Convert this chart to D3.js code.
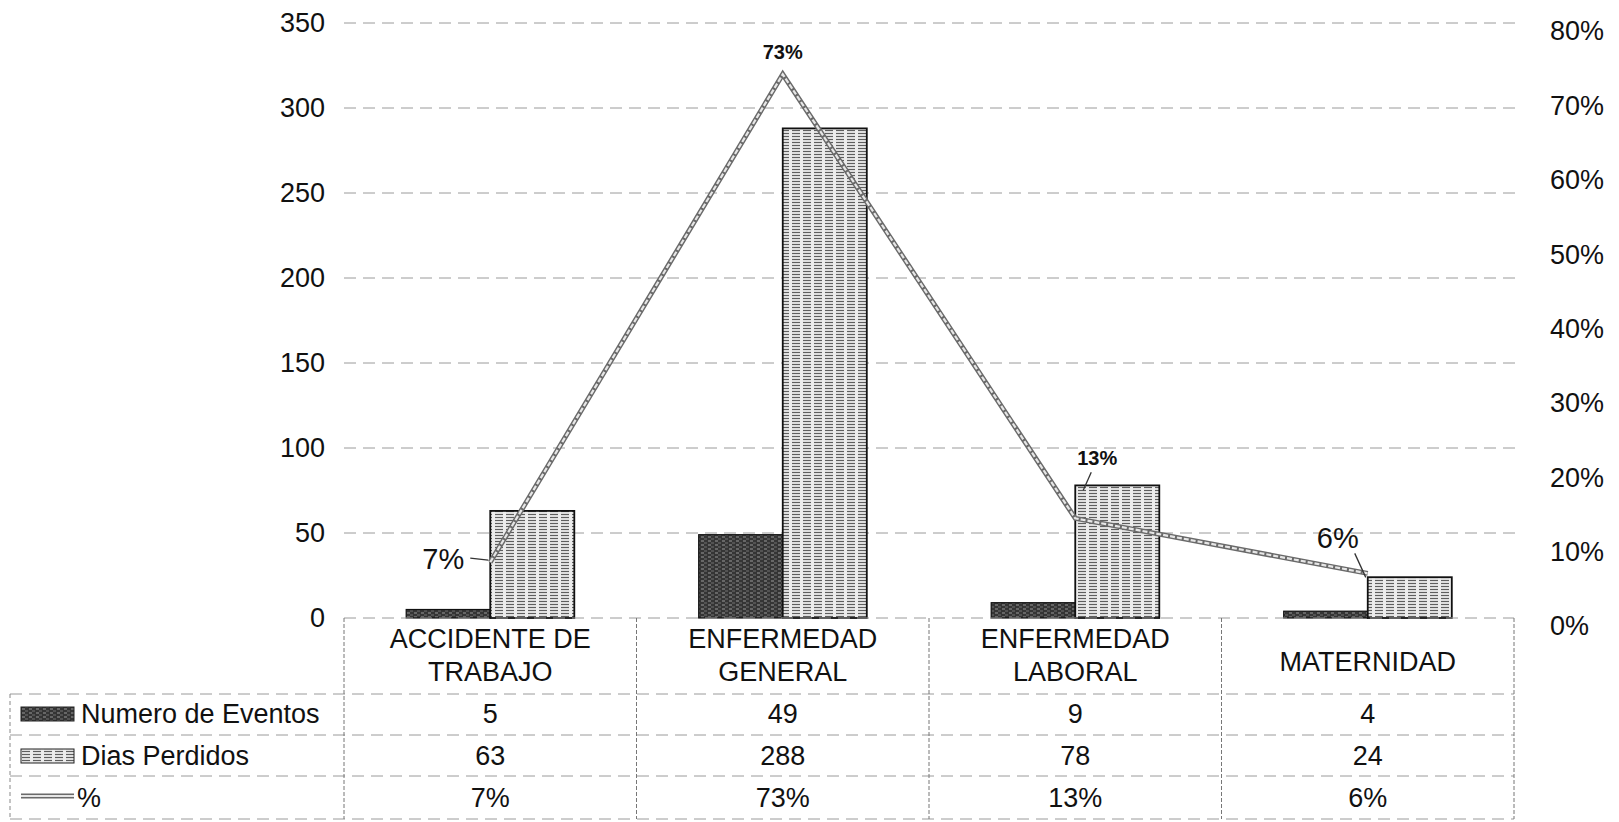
<!DOCTYPE html>
<html>
<head>
<meta charset="utf-8">
<script src="https://cdn.jsdelivr.net/npm/d3@7"></script>
<style>
  body { margin: 0; background: #fff; }
  svg { display: block; font-family: "Liberation Sans", Arial, sans-serif; }
</style>
</head>
<body>
<div id="chart"></div>
<script>
// datos
const categories = ['ACCIDENTE DE TRABAJO', 'ENFERMEDAD GENERAL', 'ENFERMEDAD LABORAL', 'MATERNIDAD'];
const categoryLines = [['ACCIDENTE DE', 'TRABAJO'], ['ENFERMEDAD', 'GENERAL'], ['ENFERMEDAD', 'LABORAL'], ['MATERNIDAD']];
const numeroEventos = [5, 49, 9, 4];
const diasPerdidos = [63, 288, 78, 24];
const porcentaje = [0.075, 0.731, 0.134, 0.06];
const pctLabels = ['7%', '73%', '13%', '6%'];
const leftTicks = [0, 50, 100, 150, 200, 250, 300, 350];
const rightTicks = [0, 0.1, 0.2, 0.3, 0.4, 0.5, 0.6, 0.7, 0.8];
const seriesNames = ['Numero de Eventos', 'Dias Perdidos', '%'];

const W = 1619, H = 822;
const plot = {left: 344, right: 1514, top: 23, bottom: 618};
const rowLines = [694, 735, 776, 819];
const tableLeft = 10;

const svg = d3.select('#chart').append('svg')
    .attr('width', W)
    .attr('height', H);

const defs = svg.append('defs');

// trama clara (Dias Perdidos)
let pl = defs.append('pattern').attr('id', 'light')
    .attr('patternUnits', 'userSpaceOnUse').attr('width', 11).attr('height', 3);
pl.append('rect').attr('width', 11).attr('height', 3).attr('fill', '#ececec');
pl.append('line').attr('x1', 0).attr('x2', 8).attr('y1', 1.5).attr('y2', 1.5)
    .attr('stroke', '#5e5e5e').attr('stroke-width', 1.2);

// trama oscura (Numero de Eventos)
let pd = defs.append('pattern').attr('id', 'dark')
    .attr('patternUnits', 'userSpaceOnUse').attr('width', 7).attr('height', 4);
pd.append('rect').attr('width', 7).attr('height', 4).attr('fill', '#353535');
pd.append('line').attr('x1', 1).attr('x2', 4).attr('y1', 1).attr('y2', 1)
    .attr('stroke', '#999').attr('stroke-width', 1);
pd.append('line').attr('x1', 4).attr('x2', 7).attr('y1', 3).attr('y2', 3)
    .attr('stroke', '#707070').attr('stroke-width', 1);

let x0 = d3.scaleBand()
    .domain(categories)
    .range([plot.left, plot.right])
    .padding(0);

let x1 = d3.scaleBand()
    .domain(['eventos', 'dias'])
    .range([0, x0.bandwidth()])
    .paddingInner(0)
    .paddingOuter(0.74);

let y = d3.scaleLinear()
    .domain([0, 350])
    .range([plot.bottom, plot.top]);

let y2 = d3.scaleLinear()
    .domain([0, 0.8])
    .range([plot.bottom, plot.top]);

const gridStyle = (sel) => sel
    .attr('stroke', '#9a9a9a')
    .attr('stroke-width', 1)
    .attr('stroke-dasharray', '12,7');

// lineas de division
svg.append('g').selectAll('line')
    .data(leftTicks.filter(d => d > 0))
    .enter().append('line')
    .attr('x1', plot.left).attr('x2', plot.right + 4)
    .attr('y1', d => y(d)).attr('y2', d => y(d))
    .call(gridStyle);

// eje izquierdo
svg.append('g').selectAll('text')
    .data(leftTicks)
    .enter().append('text')
    .attr('x', 325)
    .attr('y', d => y(d))
    .attr('dy', '0.35em')
    .attr('text-anchor', 'end')
    .attr('font-size', 27)
    .attr('fill', '#111')
    .text(d => d);

// eje derecho
svg.append('g').selectAll('text')
    .data(rightTicks)
    .enter().append('text')
    .attr('x', 1550)
    .attr('y', d => y2(d) + 8)
    .attr('dy', '0.35em')
    .attr('font-size', 27)
    .attr('fill', '#111')
    .text(d => Math.round(d * 100) + '%');

// barras
const bars = svg.append('g');
bars.selectAll('rect.eventos')
    .data(numeroEventos)
    .enter().append('rect')
    .attr('class', 'eventos')
    .attr('x', (d, i) => x0(categories[i]) + x1('eventos'))
    .attr('y', d => y(d))
    .attr('width', x1.bandwidth())
    .attr('height', d => y(0) - y(d))
    .attr('fill', 'url(#dark)')
    .attr('stroke', '#111')
    .attr('stroke-width', 1.2);

bars.selectAll('rect.dias')
    .data(diasPerdidos)
    .enter().append('rect')
    .attr('class', 'dias')
    .attr('x', (d, i) => x0(categories[i]) + x1('dias'))
    .attr('y', d => y(d))
    .attr('width', x1.bandwidth())
    .attr('height', d => y(0) - y(d))
    .attr('fill', 'url(#light)')
    .attr('stroke', '#111')
    .attr('stroke-width', 1.8);

// linea de porcentaje
const pts = porcentaje.map((d, i) => [x0(categories[i]) + x0.bandwidth() / 2, y2(d)]);
const line = d3.line();
svg.append('path')
    .attr('d', line(pts))
    .attr('fill', 'none')
    .attr('stroke', '#6a6a6a')
    .attr('stroke-width', 5)
    .attr('stroke-linejoin', 'miter');
svg.append('path')
    .attr('d', line(pts))
    .attr('fill', 'none')
    .attr('stroke', '#e6e6e6')
    .attr('stroke-width', 2.2)
    .attr('stroke-dasharray', '5,2');

// etiquetas de datos
const labelStyle = [
    {dx: -26, dy: -3, anchor: 'end', size: 29, weight: 'normal', lead: [[-20, -4], [-2, -2]]},
    {dx: 0, dy: -22, anchor: 'middle', size: 20, weight: 'bold', lead: null},
    {dx: 22, dy: -60, anchor: 'middle', size: 20, weight: 'bold', lead: [[16, -46], [8, -28]]},
    {dx: -30, dy: -36, anchor: 'middle', size: 29, weight: 'normal', lead: [[-13, -20], [-2, 4]]}
];
const lbl = svg.append('g');
pts.forEach((p, i) => {
    let s = labelStyle[i];
    lbl.append('text')
        .attr('x', p[0] + s.dx)
        .attr('y', p[1] + s.dy)
        .attr('dy', '0.35em')
        .attr('text-anchor', s.anchor)
        .attr('font-size', s.size)
        .attr('font-weight', s.weight)
        .attr('fill', '#111')
        .text(pctLabels[i]);
    if (s.lead) {
        lbl.append('line')
            .attr('x1', p[0] + s.lead[0][0]).attr('y1', p[1] + s.lead[0][1])
            .attr('x2', p[0] + s.lead[1][0]).attr('y2', p[1] + s.lead[1][1])
            .attr('stroke', '#333').attr('stroke-width', 1.3);
    }
});

// tabla de datos
const table = svg.append('g');
// borde superior (eje x)
table.append('line')
    .attr('x1', plot.left).attr('x2', plot.right)
    .attr('y1', plot.bottom).attr('y2', plot.bottom)
    .call(gridStyle);
// lineas horizontales
table.selectAll('line.row')
    .data(rowLines)
    .enter().append('line')
    .attr('class', 'row')
    .attr('x1', tableLeft).attr('x2', plot.right)
    .attr('y1', d => d).attr('y2', d => d)
    .call(gridStyle);
// lineas verticales
const vx = categories.map(c => x0(c)).concat([plot.right]);
table.selectAll('line.col')
    .data(vx)
    .enter().append('line')
    .attr('class', 'col')
    .attr('x1', d => d).attr('x2', d => d)
    .attr('y1', plot.bottom).attr('y2', rowLines[3])
    .attr('stroke', '#777').attr('stroke-width', 1)
    .attr('stroke-dasharray', '4,2');
table.append('line')
    .attr('x1', tableLeft).attr('x2', tableLeft)
    .attr('y1', rowLines[0]).attr('y2', rowLines[3])
    .attr('stroke', '#888').attr('stroke-width', 1)
    .attr('stroke-dasharray', '4,3');

// categorias
categoryLines.forEach((lines, i) => {
    let cx = x0(categories[i]) + x0.bandwidth() / 2;
    let t = table.append('text')
        .attr('text-anchor', 'middle')
        .attr('font-size', 27)
        .attr('fill', '#111');
    let y0 = lines.length === 1 ? 662 : 639;
    lines.forEach((s, j) => {
        t.append('tspan')
            .attr('x', cx)
            .attr('y', y0 + j * 33)
            .attr('dy', '0.35em')
            .text(s);
    });
});

// filas de valores
const rows = [numeroEventos, diasPerdidos, pctLabels];
const rowY = [714, 756, 798];
rows.forEach((vals, r) => {
    table.selectAll('text.r' + r)
        .data(vals)
        .enter().append('text')
        .attr('class', 'r' + r)
        .attr('x', (d, i) => x0(categories[i]) + x0.bandwidth() / 2)
        .attr('y', rowY[r])
        .attr('dy', '0.35em')
        .attr('text-anchor', 'middle')
        .attr('font-size', 27)
        .attr('fill', '#111')
        .text(d => d);
});

// leyenda de la tabla
const keys = table.append('g');
keys.append('rect')
    .attr('x', 21).attr('y', rowY[0] - 7).attr('width', 53).attr('height', 14)
    .attr('fill', 'url(#dark)').attr('stroke', '#222');
keys.append('rect')
    .attr('x', 21).attr('y', rowY[1] - 7).attr('width', 53).attr('height', 14)
    .attr('fill', 'url(#light)').attr('stroke', '#222');
keys.append('line')
    .attr('x1', 21).attr('x2', 74).attr('y1', rowY[2] - 2).attr('y2', rowY[2] - 2)
    .attr('stroke', '#6a6a6a').attr('stroke-width', 5);
keys.append('line')
    .attr('x1', 21).attr('x2', 74).attr('y1', rowY[2] - 2).attr('y2', rowY[2] - 2)
    .attr('stroke', '#e6e6e6').attr('stroke-width', 2.2);
keys.selectAll('text')
    .data(seriesNames)
    .enter().append('text')
    .attr('x', (d, i) => i === 2 ? 77 : 81)
    .attr('y', (d, i) => rowY[i])
    .attr('dy', '0.35em')
    .attr('font-size', 27)
    .attr('fill', '#111')
    .text(d => d);
</script>
</body>
</html>
